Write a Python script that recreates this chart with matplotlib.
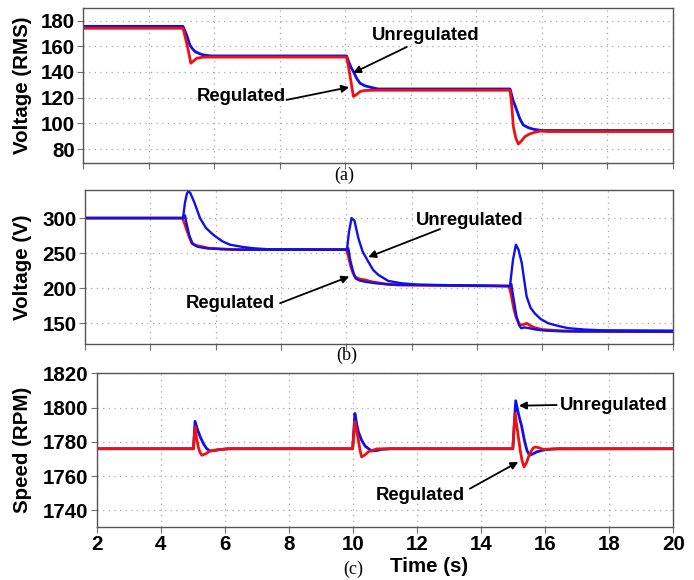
import matplotlib
matplotlib.use("Agg")
import matplotlib.pyplot as plt

plt.rcParams["font.family"] = ["Liberation Sans", "DejaVu Sans"]
plt.rcParams["font.weight"] = "bold"

# (a) RMS voltage
t_rms_unreg = [2, 5.05, 5.10, 5.16, 5.26, 5.34, 5.42, 5.55, 5.67, 5.9,
               10.04, 10.12, 10.18, 10.25, 10.35, 10.45, 10.6, 10.76, 11.0,
               15.03, 15.12, 15.18, 15.23, 15.33, 15.43, 15.58, 15.74, 16.0, 20]
v_rms_unreg = [175.5, 175.5, 172.5, 168.9, 161, 158, 155.9, 154.3, 153.3, 152.5,
               152.5, 147, 143.5, 140.3, 135, 131.3, 129.3, 128.2, 126.8,
               126.8, 118, 114, 110.5, 103.5, 98.8, 96.8, 95.5, 94.5, 94.5]
t_rms_reg = [2, 5.05, 5.13, 5.21, 5.29, 5.37, 5.47, 5.65, 5.87,
             10.04, 10.10, 10.15, 10.25, 10.35, 10.45, 10.6, 10.86,
             15.03, 15.08, 15.13, 15.2, 15.28, 15.38, 15.48, 15.6, 15.74, 15.94, 16.2, 20]
v_rms_reg = [174, 174, 166, 157, 146.8, 148.5, 150.7, 151.5, 151.6,
             151.6, 144, 136.4, 121, 122.5, 124.8, 125.6, 125.8,
             125.8, 114, 97.5, 89, 84, 86.5, 89.7, 91.5, 92.8, 94, 93.7, 93.7]

# (b) voltage
t_v_unreg = [2, 5.0, 5.06, 5.12, 5.16, 5.22, 5.35, 5.52, 5.7, 5.93, 6.2, 6.44, 6.8, 7.14, 7.6,
             10.02, 10.08, 10.16, 10.25, 10.37, 10.5, 10.67, 10.82, 10.98, 11.28, 11.69, 12.2,
             15.01, 15.1, 15.19, 15.27, 15.37, 15.45, 15.52, 15.64, 15.77, 15.95, 16.18, 16.5,
             16.79, 17.3, 17.8, 20]
v_v_unreg = [300, 300, 322, 335, 338, 336, 322, 300, 286, 276, 267, 262, 259, 257, 255.5,
             255, 280, 300, 296, 271, 252, 238, 226, 219, 210.4, 207, 205,
             203, 240, 262, 255, 236, 210, 188, 172, 164, 156, 150, 146,
             143, 141, 140, 139.5]
t_v_reg = [2, 4.98, 5.05, 5.12, 5.2, 5.27, 5.4, 5.6, 5.8, 6.2, 6.6,
           10.0, 10.06, 10.13, 10.2, 10.26, 10.4, 10.55, 10.8, 11.2, 11.6,
           14.98, 15.05, 15.12, 15.2, 15.31, 15.42, 15.52, 15.62, 15.75, 16.0, 16.5, 17.0, 20]
v_v_reg = [300, 300, 292, 282, 272, 264, 261, 259, 257, 256, 255,
           255, 246, 232, 222, 216.6, 213, 212, 209, 206, 204.5,
           203, 190, 172, 158, 148, 148, 150, 147, 144, 141, 139.5, 138.5, 138]
t_v_reg_b = [2, 5.02, 5.06, 5.12, 5.2, 5.3, 5.45, 5.7, 6.2, 6.6,
             10.02, 10.06, 10.12, 10.2, 10.28, 10.4, 10.6, 10.9, 11.4,
             15.0, 15.05, 15.12, 15.2, 15.28, 15.35, 15.45, 15.6, 15.8, 16.1, 16.6, 20]
v_v_reg_b = [300, 300, 304, 290, 274, 263, 259, 257, 255.5, 255,
             255, 257, 240, 225, 214, 211, 209, 207, 205,
             203, 206, 185, 162, 148, 143, 144, 143, 141, 139.5, 138.5, 138]

# (c) speed
t_spd_unreg = [2, 5.02, 5.07, 5.15, 5.23, 5.33, 5.43, 5.54, 5.7, 5.85, 6.1,
               9.99, 10.06, 10.12, 10.17, 10.27, 10.38, 10.58, 10.75, 10.9, 11.2,
               14.99, 15.08, 15.17, 15.27, 15.35, 15.43, 15.51, 15.62, 15.74, 15.9, 16.05, 16.4, 20]
v_spd_unreg = [1776, 1776, 1792, 1787, 1783, 1779, 1776.1, 1774.7, 1775, 1775.5, 1776,
               1776, 1796.6, 1790, 1785.8, 1781, 1777.5, 1774.7, 1775, 1775.6, 1776,
               1776, 1804, 1796, 1788.8, 1781, 1775.1, 1772.2, 1773, 1774.2, 1775, 1775.5, 1776, 1776]
t_spd_reg = [2, 5.02, 5.07, 5.12, 5.17, 5.22, 5.28, 5.4, 5.54, 5.8, 6.2,
             9.99, 10.06, 10.12, 10.17, 10.22, 10.27, 10.38, 10.48, 10.74, 11.1,
             14.99, 15.06, 15.14, 15.22, 15.28, 15.34, 15.41, 15.48, 15.56, 15.63, 15.7, 15.8,
             15.94, 16.25, 20]
v_spd_reg = [1776, 1776, 1788.8, 1782, 1777.1, 1774, 1772.2, 1773, 1774.7, 1775.5, 1776,
             1776, 1791.7, 1786, 1781, 1775, 1771.2, 1772.5, 1774.2, 1775.9, 1776,
             1776, 1796.6, 1786, 1775.1, 1769, 1765.4, 1767.5, 1771.2, 1774.5, 1776.5, 1777, 1776.6,
             1775.6, 1775.9, 1776]

x_ticks = [2, 4, 6, 8, 10, 12, 14, 16, 18, 20]
yticks_rms = [80, 100, 120, 140, 160, 180]
yticks_v = [150, 200, 250, 300]
yticks_spd = [1740, 1760, 1780, 1800, 1820]

BLUE = "#1010e8"
RED = "#f01010"
FS = 13.3     # annotations
FS_TICK = 14.8
W, H = 694, 580

fig = plt.figure(figsize=(W / 100, H / 100), dpi=100)


def px_axes(left, top, right, bottom):
    return fig.add_axes([left / W, 1 - bottom / H, (right - left) / W, (bottom - top) / H])


def style(ax, yticks, ylim, show_x):
    ax.set_xlim(2, 20)
    ax.set_ylim(*ylim)
    ax.set_xticks(x_ticks)
    ax.set_yticks(yticks)
    ax.grid(True, color="#a8a8a8", linestyle=(0, (1, 3.5)), linewidth=0.9)
    ax.tick_params(direction="out", length=4, color="#707070", labelsize=FS_TICK, pad=2)
    for lab in ax.get_yticklabels() + ax.get_xticklabels():
        lab.set_fontweight("bold")
    if not show_x:
        ax.set_xticklabels([])
    for sp in ax.spines.values():
        sp.set_color("#555555")
        sp.set_linewidth(1.0)


def label(ax, text, xy, tail, tip):
    ax.text(xy[0], xy[1], text, ha="center", va="center", fontsize=FS, fontweight="bold")
    ax.annotate("", xy=tip, xytext=tail,
                arrowprops=dict(arrowstyle="-|>", color="black", lw=1.3,
                                mutation_scale=11, shrinkA=0, shrinkB=0))


def ylabel(text, top, bottom):
    fig.text(23 / W, 1 - (top + bottom) / 2 / H, text, rotation=90, ha="center",
             va="center", fontsize=FS_TICK, fontweight="bold")


# (a)
ax1 = px_axes(83, 7.7, 673, 163.3)
ax1.plot(t_rms_unreg, v_rms_unreg, color=BLUE, lw=2.0)
ax1.plot(t_rms_reg, v_rms_reg, color=RED, lw=2.0)
style(ax1, yticks_rms, (69, 190), False)
label(ax1, "Unregulated", (12.45, 168.1), (11.88, 159.5), (10.24, 139.3))
label(ax1, "Regulated", (6.82, 120.9), (8.21, 118.3), (10.12, 128.2))
ylabel("Voltage (RMS)", 7.7, 163.3)
fig.text(344 / W, 1 - 175 / H, "(a)", ha="center", va="center",
         family="Liberation Serif", fontweight="normal", fontsize=13)

# (b)
ax2 = px_axes(85, 190, 673, 344.3)
ax2.plot(t_v_reg, v_v_reg, color=RED, lw=2.0)
ax2.plot(t_v_reg_b, v_v_reg_b, color=BLUE, lw=1.7)
ax2.plot(t_v_unreg, v_v_unreg, color=BLUE, lw=1.7)
style(ax2, yticks_v, (120, 340), False)
label(ax2, "Unregulated", (13.78, 296.6), (12.87, 284.3), (10.67, 244.3))
label(ax2, "Regulated", (6.46, 177.6), (7.97, 178.6), (10.09, 216.6))
ylabel("Voltage (V)", 190, 344.3)
fig.text(347 / W, 1 - 355 / H, "(b)", ha="center", va="center",
         family="Liberation Serif", fontweight="normal", fontsize=13)

# (c)
ax3 = px_axes(96.7, 373.3, 673.3, 526.7)
ax3.plot(t_spd_unreg, v_spd_unreg, color=BLUE, lw=2.0)
ax3.plot(t_spd_reg, v_spd_reg, color=RED, lw=2.0)
style(ax3, yticks_spd, (1730.5, 1820), True)
label(ax3, "Unregulated", (18.13, 1801.5), (16.36, 1801.5), (15.18, 1801.1))
label(ax3, "Regulated", (12.11, 1748.8), (13.65, 1752.7), (15.16, 1768.3))
ylabel("Speed (RPM)", 373.3, 526.7)
fig.text(353 / W, 1 - 569 / H, "(c)", ha="center", va="center",
         family="Liberation Serif", fontweight="normal", fontsize=13)
fig.text(429 / W, 1 - 567 / H, "Time (s)", ha="center", va="center",
         fontsize=FS_TICK, fontweight="bold")

fig.savefig("out.png", dpi=100)
